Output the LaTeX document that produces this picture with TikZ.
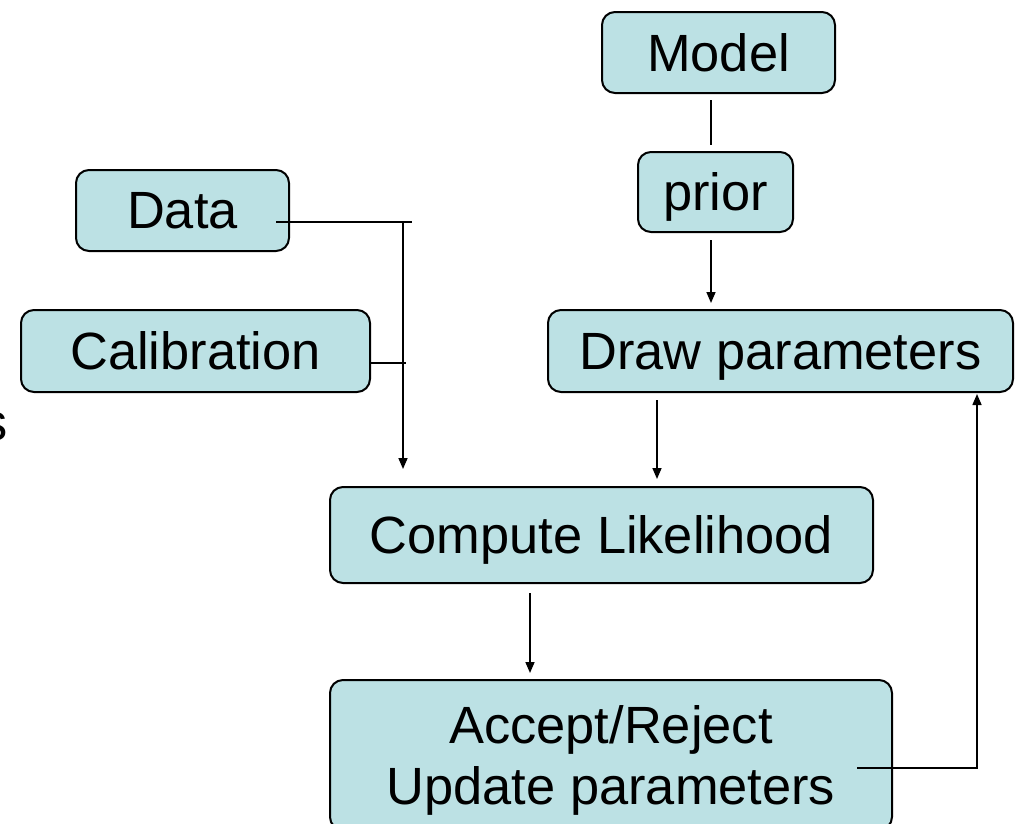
\documentclass[tikz,border=0pt]{standalone}
\usepackage{fontspec}
\setmainfont{Liberation Sans}
\usetikzlibrary{arrows.meta}
\definecolor{boxfill}{HTML}{BCE1E4}
\tikzset{
  box/.style={draw=black, line width=2pt, fill=boxfill, rounded corners=13pt,
    inner sep=0pt, align=center, text depth=0pt, font=\fontsize{52.4}{61}\selectfont},
  conn/.style={line width=1.6pt, draw=black},
  arr/.style={conn, -{Triangle[length=11pt,width=9pt]}}
}
\begin{document}
\begin{tikzpicture}[x=1pt,y=-1pt]
\useasboundingbox (0,0) rectangle (1017,823);
\node[box, minimum width=233pt, minimum height=81pt] (model) at (718.5,52.5) {Model};
\node[box, minimum width=155pt, minimum height=80pt] (prior) at (715.5,192) {prior};
\node[box, minimum width=213pt, minimum height=81pt] (data) at (182.5,210.5) {Data};
\node[box, minimum width=349pt, minimum height=82pt] (calib) at (195.5,351) {Calibration};
\node[box, minimum width=465pt, minimum height=82pt] (draw) at (780.5,351) {Draw parameters};
\node[box, minimum width=543pt, minimum height=96pt] (like) at (601.5,535) {Compute Likelihood};
\node[box, minimum width=562pt, minimum height=150pt] (acc) at (611,755) {Accept/Reject\\Update parameters};
\node[font=\fontsize{52.4}{61}\selectfont, inner sep=0pt, anchor=base] (frag) at (-5,440) {s};
% connectors
\coordinate (m1) at (711,100);
\coordinate (p1) at (711,145);
\draw[conn] (m1) -- (p1);
\coordinate (p2) at (711,240);
\coordinate (d1) at (711,303);
\draw[arr] (p2) -- (d1);
\coordinate (da) at (276,222);
\coordinate (dae) at (412,222);
\draw[conn] (da) -- (dae);
\coordinate (vt) at (403,222);
\coordinate (vb) at (403,469);
\draw[arr] (vt) -- (vb);
\coordinate (ce) at (406,363);
\draw[conn] (calib.east |- ce) -- (ce);
\coordinate (dp1) at (657,400);
\coordinate (dp2) at (657,479);
\draw[arr] (dp1) -- (dp2);
\coordinate (cl1) at (530,593);
\coordinate (cl2) at (530,673);
\draw[arr] (cl1) -- (cl2);
\coordinate (ac1) at (857,768);
\coordinate (ac2) at (977,768);
\coordinate (ac3) at (977,394);
\draw[arr] (ac1) -- (ac2) -- (ac3);
\end{tikzpicture}
\end{document}
